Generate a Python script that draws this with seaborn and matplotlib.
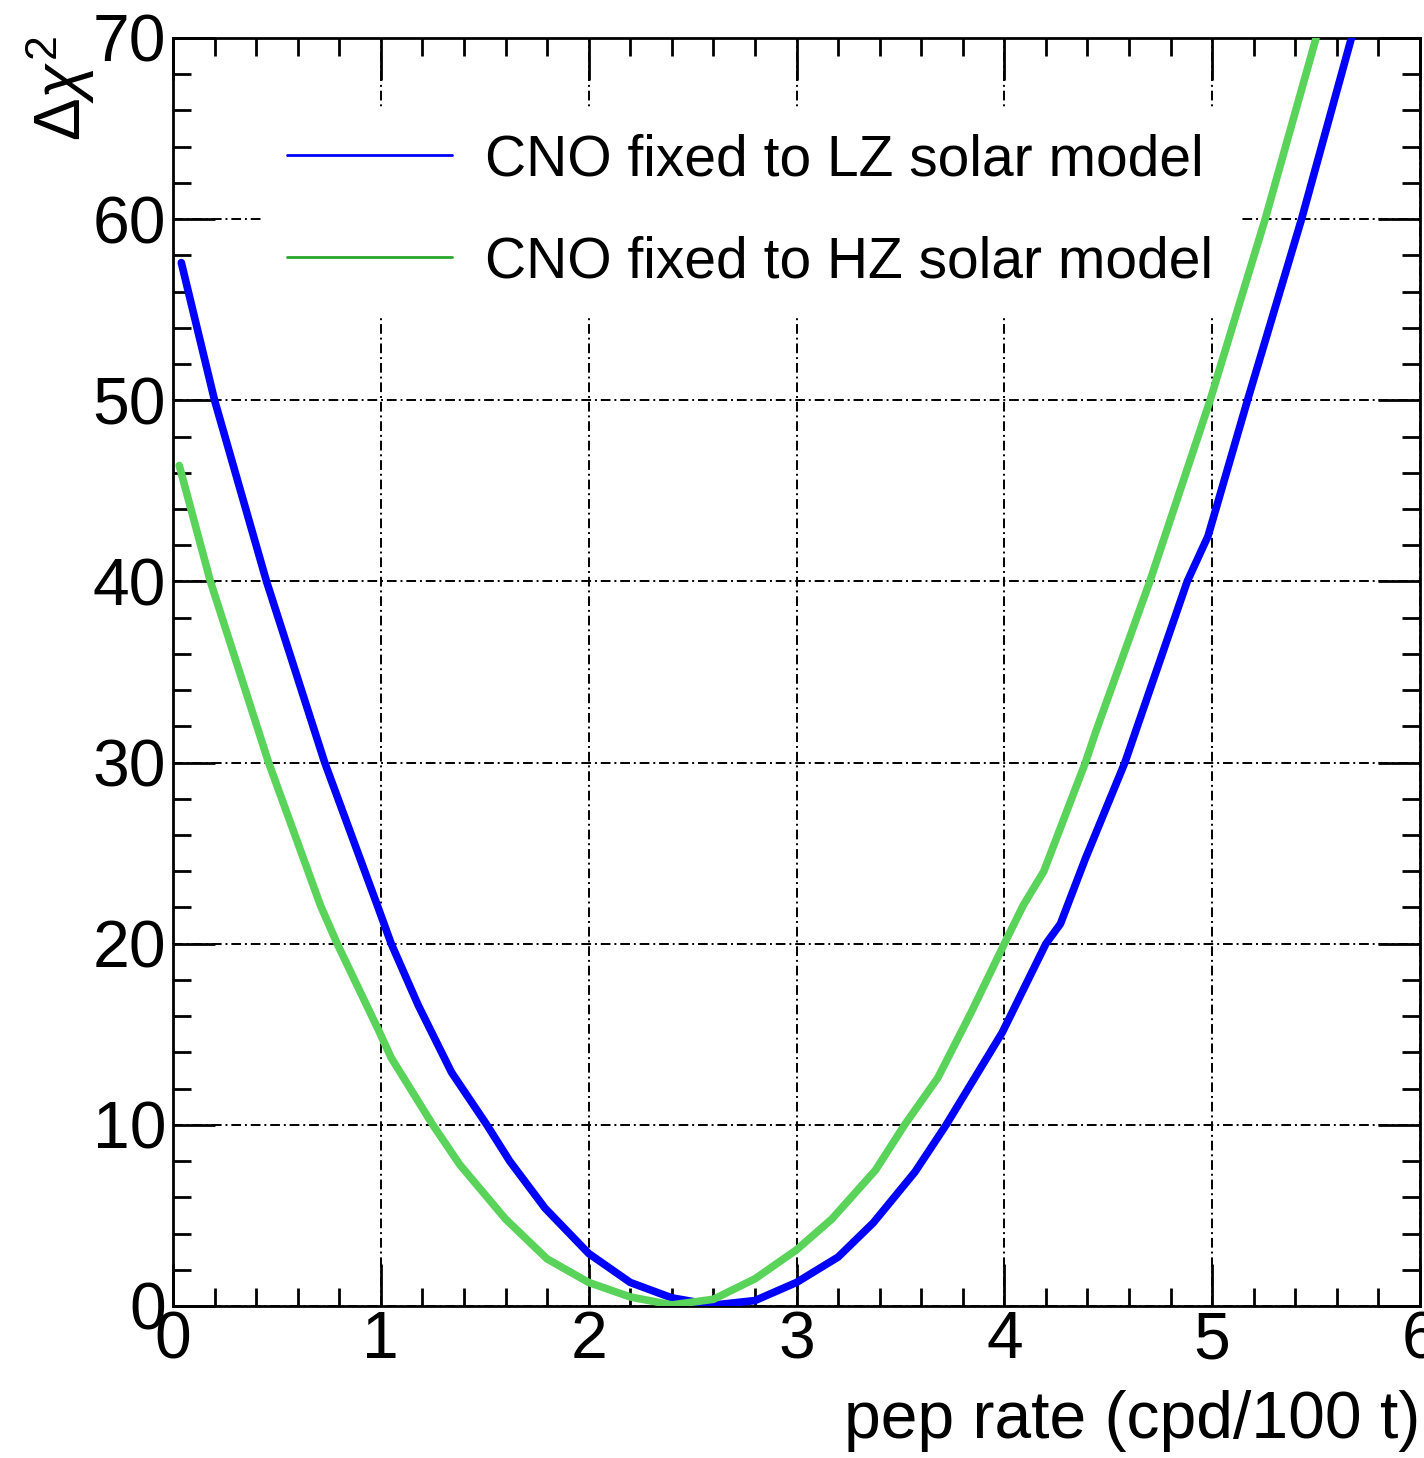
import numpy as np
import pandas as pd
import matplotlib
matplotlib.use("Agg")
import matplotlib.pyplot as plt
from matplotlib.lines import Line2D
from matplotlib.ticker import MultipleLocator
import seaborn as sns

# ---- data ----
x_lz = [0.04, 0.20, 0.45, 0.73, 0.99, 1.05, 1.18, 1.34, 1.51, 1.62, 1.79, 2.00, 2.20, 2.40,
        2.60, 2.80, 3.00, 3.20, 3.37, 3.57, 3.72, 3.99, 4.20, 4.27, 4.39, 4.58, 4.88, 4.98,
        5.17, 5.43, 5.67]
y_lz = [57.6, 50.0, 40.0, 30.0, 21.9, 20.0, 16.6, 12.9, 10.0, 8.0, 5.4, 2.9, 1.3, 0.45,
        0.05, 0.3, 1.3, 2.7, 4.6, 7.4, 10.0, 15.1, 20.0, 21.1, 24.7, 30.0, 40.0, 42.5,
        50.0, 60.0, 70.0]
x_hz = [0.03, 0.18, 0.46, 0.71, 0.79, 0.99, 1.05, 1.25, 1.38, 1.60, 1.80, 2.00, 2.20, 2.40,
        2.60, 2.80, 3.00, 3.17, 3.38, 3.52, 3.68, 3.84, 4.00, 4.09, 4.19, 4.39, 4.44, 4.70,
        4.99, 5.17, 5.255, 5.50]
y_hz = [46.4, 40.0, 30.0, 22.1, 20.0, 15.2, 13.7, 10.0, 7.8, 4.8, 2.6, 1.3, 0.5, 0.06,
        0.37, 1.5, 3.1, 4.8, 7.5, 10.0, 12.6, 16.2, 20.0, 22.1, 24.0, 30.0, 31.7, 40.0,
        50.0, 56.8, 60.0, 70.0]
labels = ["CNO fixed to LZ solar model", "CNO fixed to HZ solar model"]
x_ticks = [0, 1, 2, 3, 4, 5, 6]
y_ticks = [0, 10, 20, 30, 40, 50, 60, 70]
xlabel = "pep rate (cpd/100 t)"
ylabel = r"$\Delta\chi^{2}$"

df = pd.concat([
    pd.DataFrame({"x": x_lz, "y": y_lz, "model": labels[0]}),
    pd.DataFrame({"x": x_hz, "y": y_hz, "model": labels[1]}),
], ignore_index=True)

sns.set_theme(style="white")
plt.rcParams["font.family"] = ["Liberation Sans", "DejaVu Sans"]
plt.rcParams["mathtext.fontset"] = "custom"
plt.rcParams["mathtext.rm"] = "Liberation Sans"
plt.rcParams["mathtext.it"] = "Liberation Sans:italic"
plt.rcParams["text.color"] = "black"
plt.rcParams["axes.labelcolor"] = "black"
plt.rcParams["xtick.color"] = "black"
plt.rcParams["ytick.color"] = "black"

W, H = 1424, 1458
fig = plt.figure(figsize=(W / 100, H / 100), dpi=100)
L, R, B, T = 173, 1420, 1306, 38
ax = fig.add_axes([L / W, 1 - B / H, (R - L) / W, (B - T) / H])

curve_colors = {labels[0]: "#0000ff", labels[1]: "#5ad35a"}
sns.lineplot(data=df, x="x", y="y", hue="model", palette=curve_colors, estimator=None,
             sort=False, linewidth=5.5, legend=False, ax=ax, zorder=3)

ax.set_xlim(0, 6)
ax.set_ylim(0, 70)
ax.set_xticks(x_ticks)
ax.set_yticks(y_ticks)
ax.xaxis.set_minor_locator(MultipleLocator(0.2))
ax.yaxis.set_minor_locator(MultipleLocator(2))

ax.grid(True, which="major", color="black", linewidth=1.4,
        linestyle=(0, (5, 2, 1, 2)), zorder=1)
ax.set_axisbelow(True)

for s in ax.spines.values():
    s.set_color("black")
    s.set_linewidth(2)

ax.tick_params(which="both", direction="in", top=True, right=True, bottom=True, left=True,
               color="black", width=2, labelcolor="black")
ax.tick_params(which="major", length=30, labelsize=47.5, pad=5)
ax.tick_params(which="minor", length=13)
ax.tick_params(axis="x", which="major", pad=3)

ax.set_xlabel(xlabel, fontsize=47.5, loc="right", labelpad=13, color="black")
ax.set_ylabel("")
fig.text(60 / W, 1 - 36 / H, ylabel, rotation=90, ha="center", va="top", fontsize=46,
         color="black")

handles = [Line2D([], [], color="#0000ff", lw=2.0),
           Line2D([], [], color="#2aa52a", lw=2.0)]
leg = ax.legend(handles, labels, loc="upper left", bbox_to_anchor=(0.0706, 0.945),
                fontsize=41, frameon=True, facecolor="white", edgecolor="none",
                framealpha=1.0, fancybox=False, handlelength=2.9, handletextpad=0.58,
                labelspacing=0.84, borderpad=0.45, borderaxespad=0)
leg.set_zorder(2)
for t in leg.get_texts():
    t.set_color("black")

fig.savefig("out.png", dpi=100, facecolor="white")
